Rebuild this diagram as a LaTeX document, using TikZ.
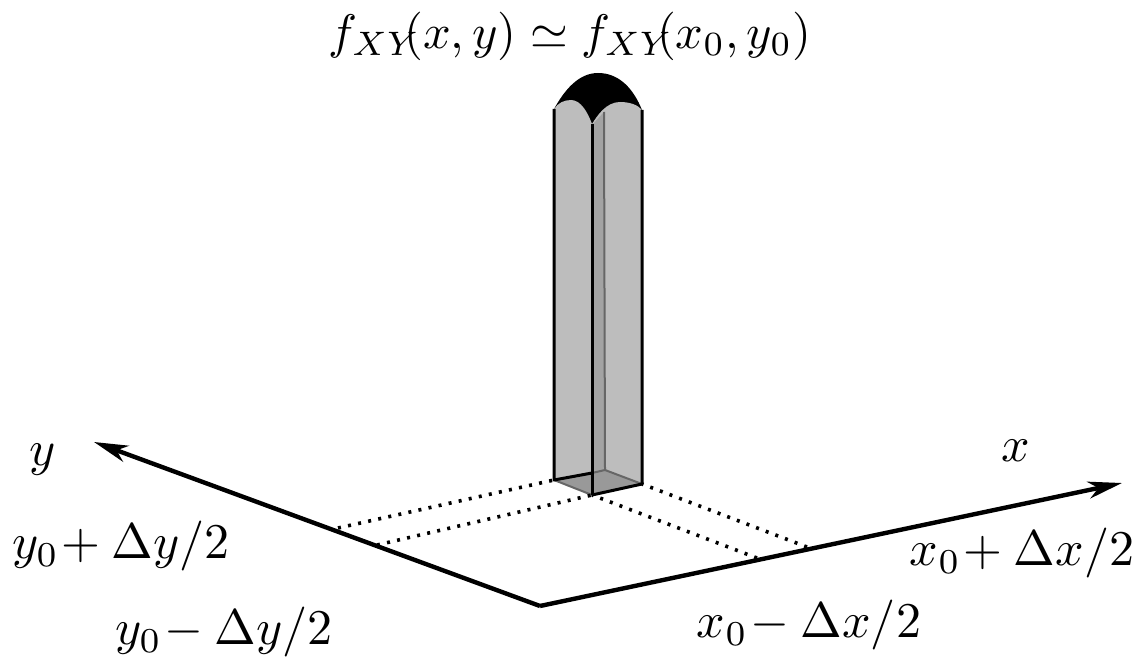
\documentclass[tikz,border=0pt]{standalone}
\usepackage{amssymb}
\usetikzlibrary{arrows.meta}
\tikzset{
  axisline/.style={line width=4.4pt,-{Stealth[length=34pt,width=17pt,inset=10pt]}},
  dotline/.style={line width=3.6pt,dash pattern=on 3pt off 7.3pt},
  edge/.style={line width=3pt,line join=round},
  faint/.style={line width=2pt,draw=black!60},
  lbl/.style={inner sep=0pt,scale=5},
  titlelbl/.style={inner sep=0pt,scale=4.85},
}
\begin{document}
\begin{tikzpicture}[x=1pt,y=-1pt]
\useasboundingbox (0,0) rectangle (1140,658);
% named points
\coordinate (O) at (540,606);
\coordinate (yend) at (94,442);
\coordinate (xend) at (1122,483);
\coordinate (yA) at (338,528);
\coordinate (yB) at (377,545);
\coordinate (xA) at (757,558);
\coordinate (xB) at (807,547);
\coordinate (bl) at (554,480);
\coordinate (bf) at (592,495);
\coordinate (br) at (642,484);
\coordinate (bb) at (605,470);
\coordinate (bm) at (592,473);
\coordinate (tl) at (554,109);
\coordinate (tf) at (592,124);
\coordinate (tr) at (642,110);
% dome
\fill[black] (tl) .. controls (564,91) and (578,73) .. (598,73)
   .. controls (620,73) and (634,90) .. (tr) -- (tf) -- cycle;
% faces
\fill[black!26] (tl) .. controls (558,103) and (564,100) .. (571,100)
   .. controls (581,100) and (588,113) .. (tf) -- (bf) -- (bl) -- cycle;
\fill[black!26] (tf) .. controls (597,116) and (606,102) .. (620,102)
   .. controls (630,102) and (638,105) .. (tr) -- (br) -- (bf) -- cycle;
\fill[black!36] (593,124) -- (604,112) -- (bb) -- (593,473) -- cycle;
\fill[black!40] (bl) -- (bf) -- (br) -- (bb) -- cycle;
\draw[faint] (bb) -- (604,112);
\draw[faint] (bl) -- (bf);
\draw[faint] (bb) -- (br);
\draw[faint] (bm) -- (bb);
% dotted guides
\draw[dotline] (yA) -- (bl);
\draw[dotline] (yB) -- (bf);
\draw[dotline] (xA) -- (bf);
\draw[dotline] (xB) -- (br);
% prism edges
\draw[edge] (tl) -- (bl) -- (bm);
\draw[edge] (bf) -- (br) -- (tr);
\draw[edge] (tf) -- (bf);
% axes
\draw[axisline] (O) -- (yend);
\draw[axisline] (O) -- (xend);
% labels
\node[titlelbl] (title) at (570,36) {$f_{XY}\!\!(x,y)\simeq f_{XY}\!\!(x_0,y_0)$};
\node[lbl] (ylab) at (43,460) {$y$};
\node[lbl] (xlab) at (1016,451) {$x$};
\node[lbl] (yplus) at (121,546) {$y_0\!+\Delta y/2$};
\node[lbl] (yminus) at (224,632) {$y_0\!-\Delta y/2$};
\node[lbl] (xplus) at (1022,553) {$x_0\!+\Delta x/2$};
\node[lbl] (xminus) at (809,625) {$x_0\!-\Delta x/2$};
\end{tikzpicture}
\end{document}
